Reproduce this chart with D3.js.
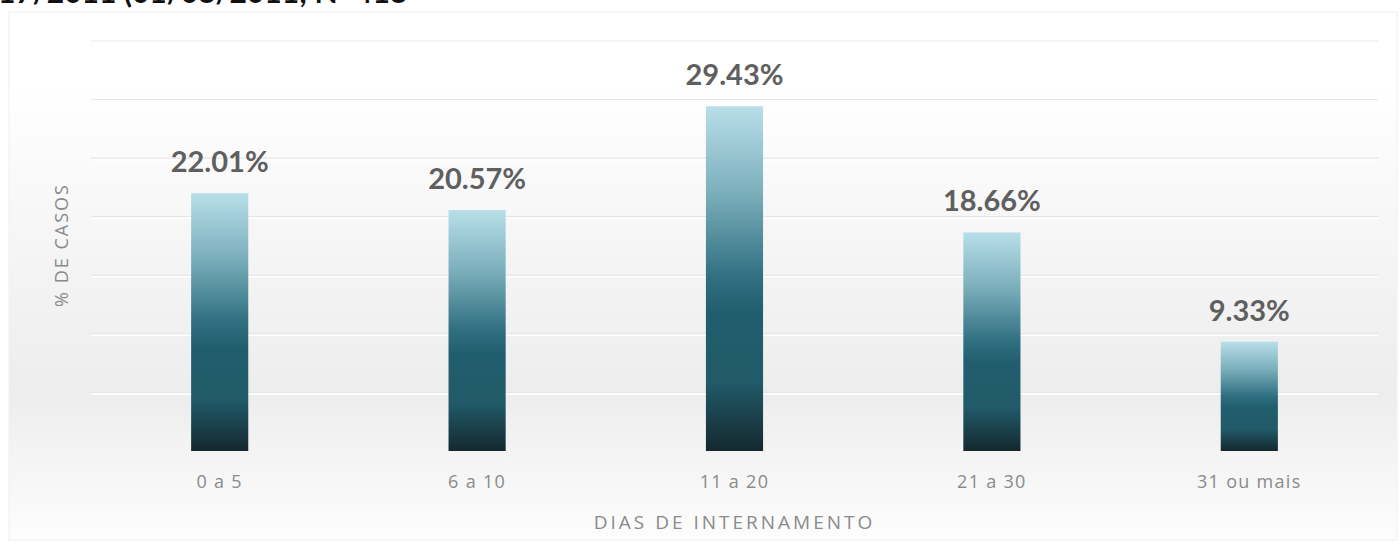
<!DOCTYPE html>
<html>
<head>
<meta charset="utf-8">
<script src="https://cdn.jsdelivr.net/npm/d3@7"></script>
<style>
  body { margin: 0; background: #fff; }
  svg { display: block; font-family: Lato, "Open Sans", sans-serif; }
</style>
</head>
<body>
<div id="chart"></div>
<script>
var W = 1400, H = 554;

var categories = ['0 a 5', '6 a 10', '11 a 20', '21 a 30', '31 ou mais'];
var values = [22.01, 20.57, 29.43, 18.66, 9.33];
var yTicks = [0, 5, 10, 15, 20, 25, 30, 35];
var titleText = '17/2011 (01/08/2011; N=418';

var margin = {top: 41, right: 22, bottom: 103, left: 91};
var axisFont = '"Open Sans", sans-serif';

var svg = d3.select('#chart').append('svg')
  .attr('width', W).attr('height', H);

var defs = svg.append('defs');

var bg = defs.append('linearGradient').attr('id', 'bg')
  .attr('x1', 0).attr('y1', 0).attr('x2', 0).attr('y2', 1);
[[0, '#ffffff'], [0.14, '#ffffff'], [0.45, '#f5f5f5'], [0.72, '#ededed'],
 [0.86, '#f5f5f5'], [1, '#fdfdfd']].forEach(function(s){
  bg.append('stop').attr('offset', s[0]).attr('stop-color', s[1]);
});

var barGrad = defs.append('linearGradient').attr('id', 'barGrad')
  .attr('x1', 0).attr('y1', 0).attr('x2', 0).attr('y2', 1);
[[0, '#b8dfe9'], [0.25, '#7cafbc'], [0.5, '#2f6f80'], [0.6, '#215e6d'],
 [0.8, '#215a69'], [1, '#14282e']].forEach(function(s){
  barGrad.append('stop').attr('offset', s[0]).attr('stop-color', s[1]);
});

// background frame
svg.append('rect')
  .attr('x', 9).attr('y', 12).attr('width', 1388).attr('height', 528)
  .attr('fill', 'url(#bg)')
  .attr('stroke', '#f0f0f0');

// title, cut off at the top of the picture
svg.append('text')
  .attr('x', -2).attr('y', 3)
  .attr('font-size', 30).attr('font-weight', 'bold')
  .attr('fill', '#111')
  .text(titleText);

var x = d3.scaleBand()
  .domain(categories)
  .range([margin.left, W - margin.right])
  .padding(0);

var y = d3.scaleLinear()
  .domain([0, 35])
  .range([H - margin.bottom, margin.top]);

var barW = x.bandwidth() * 0.222;

// gridlines
var grid = svg.append('g');
grid.selectAll('.g1').data(yTicks.slice(1)).enter().append('line')
  .attr('x1', margin.left).attr('x2', W - margin.right)
  .attr('y1', function(d){ return y(d); })
  .attr('y2', function(d){ return y(d); })
  .attr('stroke', '#e6e6e6').attr('stroke-width', 1.2);
grid.selectAll('.g2').data(yTicks.slice(1)).enter().append('line')
  .attr('x1', margin.left).attr('x2', W - margin.right)
  .attr('y1', function(d){ return y(d) + 1.5; })
  .attr('y2', function(d){ return y(d) + 1.5; })
  .attr('stroke', '#ffffff').attr('stroke-width', 1.5);

// bars
svg.selectAll('.bar').data(values).enter().append('rect')
  .attr('class', 'bar')
  .attr('x', function(d, i){ return x(categories[i]) + x.bandwidth() / 2 - barW / 2; })
  .attr('y', function(d){ return y(d); })
  .attr('width', barW)
  .attr('height', function(d){ return y(0) - y(d); })
  .attr('fill', 'url(#barGrad)');

// value labels
svg.selectAll('.val').data(values).enter().append('text')
  .attr('x', function(d, i){ return x(categories[i]) + x.bandwidth() / 2; })
  .attr('y', function(d){ return y(d) - 21; })
  .attr('text-anchor', 'middle')
  .attr('font-size', 29).attr('font-weight', 'bold')
  .attr('fill', '#5f5f5f')
  .text(function(d){ return d.toFixed(2) + '%'; });

// x axis labels
var xAxis = d3.axisBottom(x).tickSize(0).tickPadding(0);
var xg = svg.append('g')
  .attr('transform', 'translate(0,' + (y(0) + 24) + ')')
  .call(xAxis);
xg.select('.domain').remove();
xg.selectAll('text')
  .attr('font-family', axisFont)
  .attr('font-size', 18).attr('letter-spacing', 1.3)
  .attr('fill', '#8a8a8a');

// axis titles
svg.append('text')
  .attr('x', (margin.left + W - margin.right) / 2).attr('y', 529)
  .attr('text-anchor', 'middle')
  .attr('font-family', axisFont)
  .attr('font-size', 19).attr('letter-spacing', 3)
  .attr('fill', '#8a8a8a')
  .text('DIAS DE INTERNAMENTO');

svg.append('text')
  .attr('transform', 'translate(68,' + 245 + ') rotate(-90)')
  .attr('text-anchor', 'middle')
  .attr('font-family', axisFont)
  .attr('font-size', 18).attr('letter-spacing', 2)
  .attr('fill', '#8a8a8a')
  .text('% DE CASOS');
</script>
</body>
</html>
